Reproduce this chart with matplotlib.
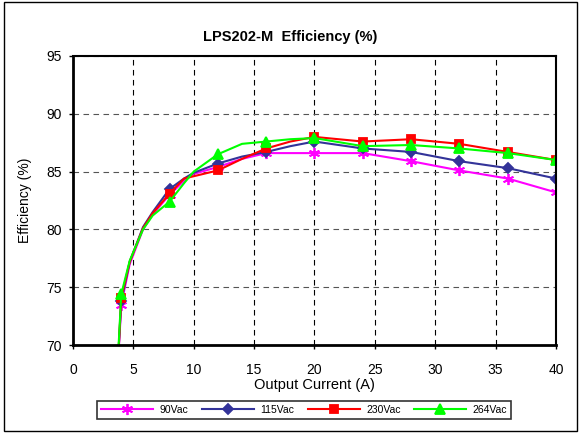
import matplotlib.pyplot as plt
from matplotlib.patches import Rectangle

plt.rcParams['font.family'] = ['Liberation Sans', 'DejaVu Sans']

# output current (A); markers only at the measured 4 A steps
current = [3.6, 4, 4.7, 5.8, 6.6, 8, 9.2, 10, 12, 14, 16, 18, 20, 24, 28, 32, 36, 40]
marker_idx = [1, 5, 8, 10, 12, 13, 14, 15, 16, 17]

eff_90 = [66.0, 73.5, 77.0, 80.0, 81.3, 83.0, 84.2, 84.8, 85.4, 86.1, 86.6, 86.6, 86.6, 86.6, 85.9, 85.1, 84.4, 83.2]
eff_115 = [66.2, 73.8, 77.2, 80.2, 81.5, 83.5, 84.4, 84.9, 85.7, 86.3, 86.7, 87.2, 87.6, 87.0, 86.7, 85.9, 85.3, 84.4]
eff_230 = [66.0, 74.1, 77.2, 80.1, 81.4, 83.1, 84.4, 84.6, 85.1, 86.1, 87.0, 87.6, 88.0, 87.6, 87.8, 87.4, 86.7, 86.0]
eff_264 = [66.4, 74.4, 77.3, 80.0, 81.2, 82.4, 84.0, 85.0, 86.5, 87.4, 87.6, 87.8, 87.9, 87.2, 87.3, 87.0, 86.6, 86.0]

series = [
    ("90Vac", eff_90, "#FF00FF", (6, 2, 0), 8),
    ("115Vac", eff_115, "#333399", "D", 5.5),
    ("230Vac", eff_230, "#FF0000", "s", 6),
    ("264Vac", eff_264, "#00FF00", "^", 7),
]

fig = plt.figure(figsize=(5.81, 4.33), dpi=100)
ax = fig.add_axes([0.1256, 0.2032, 0.8314, 0.6675])

for name, vals, col, mk, ms in series:
    ax.plot(current, vals, color=col, lw=1.5, marker=mk, markersize=ms,
            markevery=marker_idx, mec=col, mfc=col, mew=1.3, label=name)

ax.set_xlim(0, 40)
ax.set_ylim(70, 95)
ax.set_xticks(range(0, 41, 5))
ax.set_yticks(range(70, 96, 5))
ax.tick_params(labelsize=10, length=3, width=1, direction='out')
ax.tick_params(axis='x', pad=10)
ax.tick_params(axis='y', pad=5)

ax.xaxis.grid(True, color='black', linestyle=(0, (5, 4)), lw=0.8)
ax.yaxis.grid(True, color='#555555', linestyle=(0, (5, 4)), lw=0.8)
ax.set_axisbelow(True)
for s in ax.spines.values():
    s.set_linewidth(1.5)
ax.spines['left'].set_linewidth(2)
ax.spines['bottom'].set_linewidth(2)

ax.set_xlabel("Output Current (A)", fontsize=10.5, labelpad=1)
ax.set_ylabel("Efficiency (%)", fontsize=10, labelpad=10)
fig.text(0.5, 0.915, "LPS202-M  Efficiency (%)", ha='center', va='center',
         fontsize=10.5, fontweight='bold')

leg = ax.legend(loc='center', bbox_to_anchor=(0.5235, 1 - (410 / 433)), bbox_transform=fig.transFigure,
                ncol=4, fontsize=7.5, frameon=True, fancybox=False, edgecolor='black',
                handlelength=5, columnspacing=1.3, handletextpad=0.6, borderpad=0.4)
leg.get_frame().set_linewidth(1.2)

fig.patches.append(Rectangle((4 / 581, 0.005), 1 - 8 / 581, 0.99, transform=fig.transFigure,
                             fill=False, edgecolor='black', lw=1))

fig.savefig("out.png", dpi=100)
